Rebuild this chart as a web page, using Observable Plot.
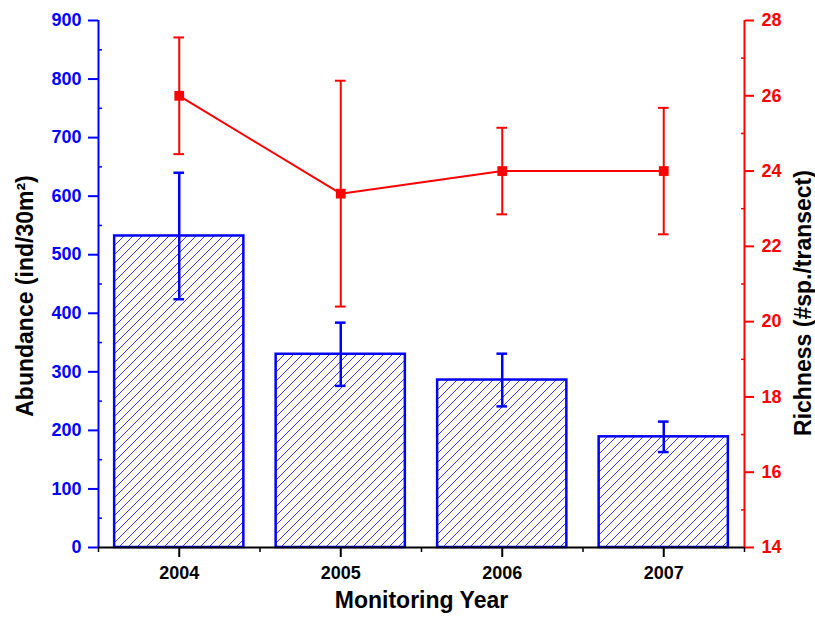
<!DOCTYPE html>
<html>
<head>
<meta charset="utf-8">
<script src="https://cdn.jsdelivr.net/npm/d3@7"></script>
<script src="https://cdn.jsdelivr.net/npm/@observablehq/plot@0.6"></script>
<style>
  html, body { margin: 0; padding: 0; background: #fff; }
  #chart { position: relative; width: 815px; height: 623px; }
  #chart svg { position: absolute; left: 0; top: 0; }
</style>
</head>
<body>
<!-- Diagonal blue hatch used as the bar fill -->
<svg width="0" height="0" style="position:absolute">
  <defs>
    <pattern id="hatch" patternUnits="userSpaceOnUse" width="9" height="9">
      <rect width="9" height="9" fill="#ffffff"></rect>
      <path d="M-2,2 L2,-2 M0,9 L9,0 M7,11 L11,7" fill="none" stroke="#3a3aff" stroke-width="1"></path>
    </pattern>
  </defs>
</svg>
<div id="chart"></div>
<script>
// Monitoring data
const years = [2004, 2005, 2006, 2007];
const abundance = [532, 330, 286, 189];        // ind/30m²
const abundanceErr = [108, 54, 45, 26];
const richness = [26.0, 23.4, 24.0, 24.0];      // #sp./transect
const richnessErr = [1.55, 3.0, 1.15, 1.68];

const abundanceTicks = d3.range(0, 901, 100);
const abundanceMinor = d3.range(50, 900, 100);
const richnessTicks = d3.range(14, 29, 2);
const richnessMinor = d3.range(15, 28, 2);

const rows = years.map((year, i) => ({
  year,
  abundance: abundance[i],
  aLo: abundance[i] - abundanceErr[i],
  aHi: abundance[i] + abundanceErr[i],
  richness: richness[i],
  rLo: richness[i] - richnessErr[i],
  rHi: richness[i] + richnessErr[i]
}));

const W = 815, H = 623;
const margins = {marginLeft: 98, marginRight: 71, marginTop: 20, marginBottom: 76};
const xDomain = [years[0] - 0.5, years[years.length - 1] + 0.5];
const boundaries = d3.range(xDomain[0], xDomain[1] + 0.01, 1);
const barHalf = 0.4;
const capHalf = 0.033;
const BLUE = "#0000ff", RED = "#ff0000";
const baseStyle = {fontFamily: "'Liberation Sans', Arial, sans-serif", fontWeight: "bold", fontSize: "18px", background: "transparent", overflow: "visible"};

// Abundance: hatched bars, left axis, year axis
const bars = Plot.plot({
  width: W, height: H, ...margins,
  style: baseStyle,
  x: {domain: xDomain},
  y: {domain: [0, 900]},
  marks: [
    Plot.rectY(rows, {x1: d => d.year - barHalf, x2: d => d.year + barHalf, y1: 0, y2: "abundance",
      fill: "url(#hatch)", stroke: BLUE, strokeWidth: 2.5}),
    Plot.ruleX(rows, {x: "year", y1: "aLo", y2: "aHi", stroke: BLUE, strokeWidth: 2.5}),
    Plot.ruleY(rows, {y: "aHi", x1: d => d.year - capHalf, x2: d => d.year + capHalf, stroke: BLUE, strokeWidth: 2.5}),
    Plot.ruleY(rows, {y: "aLo", x1: d => d.year - capHalf, x2: d => d.year + capHalf, stroke: BLUE, strokeWidth: 2.5}),
    Plot.ruleX([xDomain[0]], {stroke: BLUE, strokeWidth: 2}),
    Plot.axisY({ticks: abundanceTicks, tickSize: 10, tickPadding: 7, color: BLUE, strokeWidth: 2, fontSize: 18, label: null}),
    Plot.axisY({ticks: abundanceMinor, tickSize: -4, tickFormat: () => "", color: BLUE, strokeWidth: 1.5, label: null}),
    Plot.ruleY([0], {stroke: "#000", strokeWidth: 2}),
    Plot.axisX({ticks: years, tickFormat: "d", tickSize: 10, tickPadding: 9, color: "#000", strokeWidth: 2, fontSize: 18, label: null}),
    Plot.axisX({ticks: boundaries, tickFormat: () => "", tickSize: 5, color: "#000", strokeWidth: 1.5, label: null}),
    Plot.text(["Monitoring Year"], {frameAnchor: "bottom", dy: 60, fontSize: 23, fill: "#000"}),
    Plot.text(["Abundance (ind/30m²)"], {frameAnchor: "left", textAnchor: "middle", rotate: -90, dx: -73, dy: 12, fontSize: 23, fill: "#000"})
  ]
});

// Richness: red line with error bars on the right axis
const lines = Plot.plot({
  width: W, height: H, ...margins,
  style: baseStyle,
  x: {domain: xDomain, axis: null},
  y: {domain: [14, 28]},
  marks: [
    Plot.ruleX([xDomain[1]], {stroke: RED, strokeWidth: 2}),
    Plot.axisY({anchor: "right", ticks: richnessTicks, tickSize: 9, tickPadding: 8, color: RED, strokeWidth: 2, fontSize: 18, label: null}),
    Plot.axisY({anchor: "right", ticks: richnessMinor, tickSize: -4, tickFormat: () => "", color: RED, strokeWidth: 1.5, label: null}),
    Plot.line(rows, {x: "year", y: "richness", stroke: RED, strokeWidth: 2}),
    Plot.ruleX(rows, {x: "year", y1: "rLo", y2: "rHi", stroke: RED, strokeWidth: 2}),
    Plot.ruleY(rows, {y: "rHi", x1: d => d.year - capHalf, x2: d => d.year + capHalf, stroke: RED, strokeWidth: 2}),
    Plot.ruleY(rows, {y: "rLo", x1: d => d.year - capHalf, x2: d => d.year + capHalf, stroke: RED, strokeWidth: 2}),
    Plot.dot(rows, {x: "year", y: "richness", symbol: "square", r: 5.5, fill: RED, stroke: "none"}),
    Plot.text(["Richness (#sp./transect)"], {frameAnchor: "right", textAnchor: "middle", rotate: -90, dx: 59, dy: 19, fontSize: 23, fill: "#000"})
  ]
});

const chart = document.getElementById("chart");
chart.appendChild(bars);
chart.appendChild(lines);
</script>
</body>
</html>
